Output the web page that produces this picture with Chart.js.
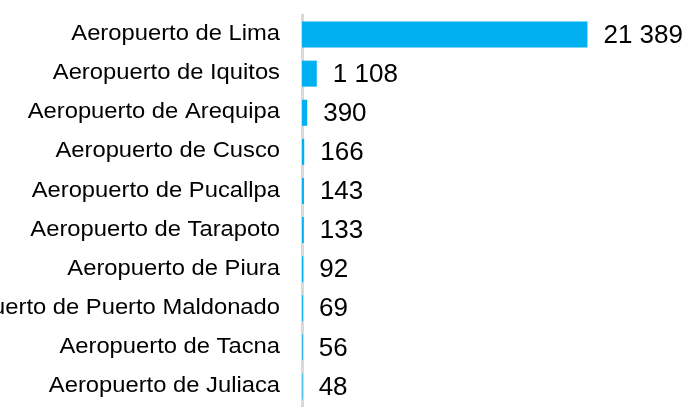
<!DOCTYPE html>
<html>
<head>
<meta charset="utf-8">
<script src="https://cdn.jsdelivr.net/npm/chart.js@4"></script>
<style>
  html, body { margin: 0; padding: 0; background: #fff; }
  canvas { display: block; }
</style>
</head>
<body>
<canvas id="airportChart" width="700" height="417"></canvas>
<script>
// categories and values
const airports = [
  'Aeropuerto de Lima',
  'Aeropuerto de Iquitos',
  'Aeropuerto de Arequipa',
  'Aeropuerto de Cusco',
  'Aeropuerto de Pucallpa',
  'Aeropuerto de Tarapoto',
  'Aeropuerto de Piura',
  'Aeropuerto de Puerto Maldonado',
  'Aeropuerto de Tacna',
  'Aeropuerto de Juliaca',
];
const passengers = [21389, 1108, 390, 166, 143, 133, 92, 69, 56, 48];

const fmt = (v) => v.toLocaleString('en-US').replace(/,/g, ' ');

// category labels are drawn a bit wider than the font, like the original
const airportLabels = {
  id: 'airportLabels',
  afterDraw(chart) {
    const ctx = chart.ctx;
    const yScale = chart.scales.y;
    ctx.save();
    ctx.font = '22px "Liberation Sans", Arial, sans-serif';
    ctx.fillStyle = '#000';
    ctx.textAlign = 'right';
    ctx.textBaseline = 'middle';
    airports.forEach((name, i) => {
      const y = yScale.getPixelForValue(i);
      ctx.setTransform(1.08, 0, 0, 1, chart.chartArea.left - 22, y - 0.5);
      ctx.fillText(name, 0, 0);
    });
    ctx.setTransform(1, 0, 0, 1, 0, 0);

    // value labels after each bar
    ctx.font = '26px "Liberation Sans", Arial, sans-serif';
    ctx.textAlign = 'left';
    const meta = chart.getDatasetMeta(0);
    meta.data.forEach((bar, i) => {
      ctx.fillText(fmt(passengers[i]), bar.x + 16, bar.y + 1);
    });
    ctx.restore();
  },
};

const ctx = document.getElementById('airportChart').getContext('2d');
new Chart(ctx, {
  type: 'bar',
  data: {
    labels: airports,
    datasets: [
      {
        data: passengers,
        backgroundColor: '#00B0F0',
        borderWidth: 0,
        barPercentage: 0.665,
        categoryPercentage: 1,
      },
    ],
  },
  options: {
    indexAxis: 'y',
    responsive: false,
    animation: false,
    layout: { padding: { top: 15, bottom: 11, left: 0, right: 11 } },
    plugins: { legend: { display: false }, tooltip: { enabled: false } },
    scales: {
      x: { display: false, min: 0, max: 29000 },
      y: {
        afterFit: (scale) => { scale.width = 302; },
        ticks: { display: false },
        grid: { display: false },
        border: { display: true, color: '#d9d9d9', width: 3 },
      },
    },
  },
  plugins: [airportLabels],
});
</script>
</body>
</html>
